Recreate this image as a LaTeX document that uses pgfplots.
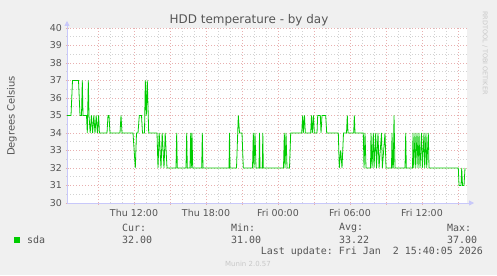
\documentclass[border=0pt]{standalone}
\usepackage{fontspec}
\setmainfont{DejaVu Sans}
\setmonofont{DejaVu Sans Mono}
\usepackage{pgfplots}
\pgfplotsset{compat=1.18}
\usetikzlibrary{arrows.meta}
\definecolor{bgc}{RGB}{240,240,240}
\definecolor{txt}{RGB}{85,85,85}
\definecolor{mgrid}{RGB}{232,175,175}
\definecolor{ngrid}{RGB}{210,210,210}
\definecolor{axc}{RGB}{200,200,250}
\definecolor{sda}{RGB}{0,204,0}
\begin{document}
\begin{tikzpicture}[x=1bp,y=1bp]
\fill[bgc] (0,0) rectangle (497,275);
\useasboundingbox (0,0) rectangle (497,275);
\begin{axis}[
  at={(67bp,72bp)}, anchor=south west,
  scale only axis, width=400bp, height=175bp,
  xmin=6.4167, xmax=39.75, ymin=30, ymax=40,
  axis background/.style={fill=white},
  axis x line=bottom, axis y line=left,
  x axis line style={draw=axc, line width=0.8bp, -{Triangle[length=5bp,width=5bp]}, shorten >=-7bp},
  y axis line style={draw=axc, line width=0.8bp, -{Triangle[length=5bp,width=5bp]}, shorten >=-7bp},
  xtick={9,12,...,39},
  xticklabels={,Thu 12:00,,Thu 18:00,,Fri 00:00,,Fri 06:00,,Fri 12:00,},
  minor x tick num=2,
  ytick={30,31,...,40},
  minor y tick num=1,
  grid=both,
  major grid style={draw=mgrid, line width=0.6bp, dash pattern=on 1bp off 2bp},
  minor grid style={draw=ngrid, line width=0.6bp, dash pattern=on 1bp off 2bp},
  major tick length=3bp, minor tick length=2bp, tick align=center,
  major tick style={draw=mgrid, line width=0.6bp},
  minor tick style={draw=ngrid, line width=0.6bp},
  /pgf/number format/assume math mode=true,
  ticklabel style={font=\fontsize{9.5}{11}\selectfont, text=txt},
  xticklabel style={yshift=-1bp},
  clip=false,
]
\addplot[sda, line width=0.8bp, sharp plot] coordinates {
(6.4167,35) (6.75,35) (6.875,37) (7.375,37) (7.5,35) (7.625,35) (7.692,37) (7.75,35)
(8.042,35) (8.108,34) (8.192,37) (8.25,35) (8.35,34) (8.45,35) (8.55,34) (8.65,35)
(8.75,34) (8.85,35) (8.95,34) (9.05,35) (9.12,34) (9.75,34) (9.833,35)
(9.917,35) (10.0,34) (10.833,34) (10.917,35) (11.0,34) (11.917,34) (12.108,32) (12.208,34)
(12.333,34) (12.442,35) (12.625,35) (12.708,34) (12.875,34) (12.942,37) (13.025,35) (13.108,37)
(13.225,34) (13.917,34) (14.0,32) (14.1,34) (14.25,32) (14.35,34) (14.5,32) (14.6,34)
(14.75,32) (15.5,32) (15.558,34) (15.608,32)
(16.333,32) (16.392,34) (16.442,32) (16.667,32) (16.725,34) (16.775,32) (16.833,34) (16.892,32)
(17.642,32) (17.692,34) (17.75,32) (19.917,32) (19.958,34) (20.0,32) (20.542,32) (20.692,35)
(20.792,34) (21.0,34) (21.108,32) (21.875,32) (21.942,34) (22.0,32) (22.083,34) (22.167,32)
(22.417,32) (22.458,34) (22.5,32) (22.692,32) (22.733,34) (22.775,32) (24.458,32) (24.525,34)
(24.583,32) (24.667,34) (24.75,32) (24.958,32) (25.058,34) (25.975,34) (26.058,35) (26.108,34)
(26.208,35) (26.275,34) (26.725,34) (26.792,35) (26.858,34) (26.958,35) (27.025,34) (27.25,34)
(27.308,35) (27.525,35) (27.583,34) (27.667,35) (27.975,35) (28.058,34) (29.025,34) (29.108,32)
(29.225,33) (29.333,32) (29.458,34) (29.708,34) (29.775,35) (29.833,34) (30.308,34) (30.358,35)
(30.417,34) (31.108,34) (31.167,32) (31.25,34) (31.333,32) (31.708,32) (31.75,34) (31.833,32)
(31.942,34) (32.0,32) (32.142,34) (32.208,32) (32.333,34) (32.417,32) (32.625,34) (32.692,32)
(32.917,34) (33.0,32) (33.458,32) (33.5,34) (33.558,32) (33.608,32) (33.667,35) (33.75,32)
(34.583,32) (34.642,34) (34.692,32) (35.208,32) (35.25,34) (35.308,32) (35.417,34) (35.475,32)
(35.583,34) (35.667,32) (35.75,34) (35.833,32) (35.958,34) (36.025,32) (36.167,34) (36.225,32)
(36.333,34) (36.392,32) (36.525,34) (36.583,32) (39.025,32) (39.083,31) (39.25,31) (39.308,32)
(39.375,31) (39.5,31) (39.583,32)
};
\end{axis}
% title and labels
\node[text=txt, font=\fontsize{12}{14}\selectfont] at (249,255) {HDD temperature - by day};
\node[text=txt, font=\fontsize{10}{12}\selectfont, rotate=90] at (12,159) {Degrees Celsius};
\node[text={rgb,255:red,200;green,200;blue,200}, font=\fontsize{6.5}{8}\selectfont, rotate=-90] at (485,222) {RRDTOOL / TOBI OETIKER};
% legend
\fill[sda] (14,32) rectangle (20,38);
\begin{scope}[every node/.style={text=txt, font=\ttfamily\fontsize{10}{12}\selectfont, inner sep=0pt}]
\node[anchor=west] at (27,35) {sda};
\node[anchor=west] at (122,47) {Cur:};
\node[anchor=west] at (122,35) {32.00};
\node[anchor=west] at (231,47) {Min:};
\node[anchor=west] at (231,35) {31.00};
\node[anchor=west] at (339,47) {Avg:};
\node[anchor=west] at (339,35) {33.22};
\node[anchor=west] at (447,47) {Max:};
\node[anchor=west] at (447,35) {37.00};
\node[anchor=east] at (483,23) {Last update: Fri Jan\ \ 2 15:40:05 2026};
\end{scope}
\node[text={rgb,255:red,200;green,200;blue,200}, font=\fontsize{7}{8}\selectfont] at (248,11) {Munin 2.0.57};
\end{tikzpicture}
\end{document}
